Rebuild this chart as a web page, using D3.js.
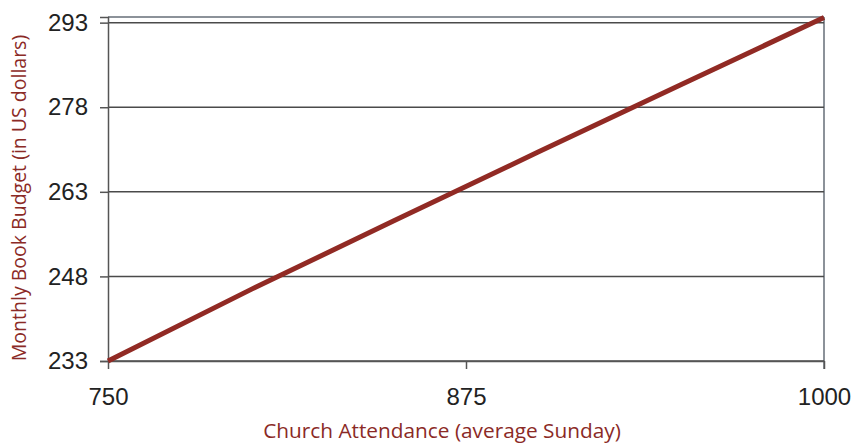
<!DOCTYPE html>
<html>
<head>
<meta charset="utf-8">
<script src="https://cdn.jsdelivr.net/npm/d3@7"></script>
<style>
  html, body { margin: 0; padding: 0; background: #fff; }
  svg { display: block; }
</style>
</head>
<body>
<div id="chart"></div>
<script>
// chart data
const attendance = [750, 800, 850, 900, 950, 1000];
const budget = [233, 245.7, 257.9, 270.0, 282.0, 293.9];
const xTicks = [750, 875, 1000];
const yTicks = [233, 248, 263, 278, 293];

const width = 852, height = 443;
const margin = { top: 17, right: 28, bottom: 82, left: 108 };
const innerW = width - margin.left - margin.right;
const innerH = height - margin.top - margin.bottom;

const svg = d3.select('#chart').append('svg')
    .attr('width', width)
    .attr('height', height);

const g = svg.append('g').attr('transform', `translate(${margin.left},${margin.top})`);

const x = d3.scaleLinear().domain([750, 1000]).range([0, innerW]);
const y = d3.scaleLinear().domain([233, 294]).range([innerH, 0]);

// frame: top and right in light grey
g.append('line')
    .attr('x1', 0).attr('x2', innerW)
    .attr('y1', 0).attr('y2', 0)
    .attr('stroke', '#8c9299').attr('stroke-width', 2);
g.append('line')
    .attr('x1', innerW).attr('x2', innerW)
    .attr('y1', 0).attr('y2', innerH + 8)
    .attr('stroke', '#8c9299').attr('stroke-width', 2);

// horizontal gridlines
g.selectAll('.grid')
    .data(yTicks)
    .enter()
    .append('line')
    .attr('class', 'grid')
    .attr('x1', 0).attr('x2', innerW)
    .attr('y1', d => y(d)).attr('y2', d => y(d))
    .attr('stroke', '#4a4a4a').attr('stroke-width', 1.5);

const tickFont = '"Liberation Sans", Arial, sans-serif';

// y axis
const yAxis = g.append('g')
    .call(d3.axisLeft(y).tickValues(yTicks).tickSize(8).tickPadding(12));
yAxis.select('.domain').attr('stroke', '#555').attr('stroke-width', 1.5);
yAxis.selectAll('.tick line').attr('stroke', '#555').attr('stroke-width', 1.5);
yAxis.selectAll('text')
    .attr('fill', '#222')
    .style('font-family', tickFont)
    .style('font-size', '24px');

// x axis
const xAxis = g.append('g')
    .attr('transform', `translate(0,${innerH})`)
    .call(d3.axisBottom(x).tickValues(xTicks).tickFormat(d3.format('d'))
        .tickSize(8).tickPadding(19).tickSizeOuter(0));
xAxis.select('.domain').attr('stroke', '#555').attr('stroke-width', 1.5);
xAxis.selectAll('.tick line').attr('stroke', '#555').attr('stroke-width', 1.5);
xAxis.selectAll('text')
    .attr('fill', '#222')
    .style('font-family', tickFont)
    .style('font-size', '24px');

// data line
const line = d3.line()
    .x((d, i) => x(attendance[i]))
    .y(d => y(d));

g.append('path')
    .datum(budget)
    .attr('fill', 'none')
    .attr('stroke', '#912a24')
    .attr('stroke-width', 5)
    .attr('stroke-linecap', 'butt')
    .attr('d', line);

// axis titles
svg.append('text')
    .attr('x', 442)
    .attr('y', 438)
    .attr('text-anchor', 'middle')
    .attr('fill', '#8b2a26')
    .style('font-family', '"Open Sans", "Noto Sans", sans-serif')
    .style('font-size', '20.8px')
    .text('Church Attendance (average Sunday)');

svg.append('text')
    .attr('transform', `translate(26,198) rotate(-90)`)
    .attr('text-anchor', 'middle')
    .attr('fill', '#8b2a26')
    .style('font-family', '"Open Sans", "Noto Sans", sans-serif')
    .style('font-size', '19.5px')
    .text('Monthly Book Budget (in US dollars)');
</script>
</body>
</html>
